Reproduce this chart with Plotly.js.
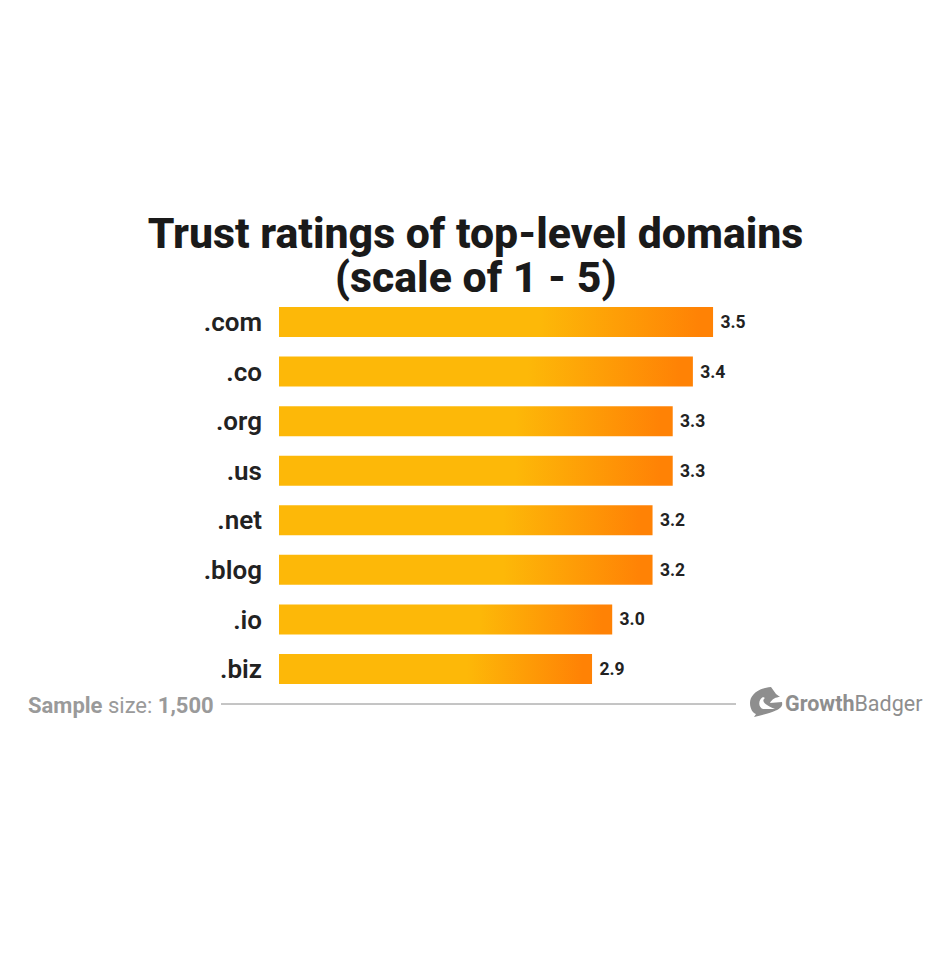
<!DOCTYPE html>
<html>
<head>
<meta charset="utf-8">
<script src="https://cdn.plot.ly/plotly-3.0.1.min.js"></script>
<style>html,body{margin:0;padding:0;background:#fff}</style>
</head>
<body>
<div id="chart" style="width:950px;height:980px"></div>
<script>
const domains = ['.com', '.co', '.org', '.us', '.net', '.blog', '.io', '.biz'];
const ratings = [3.5, 3.4, 3.3, 3.3, 3.2, 3.2, 3.0, 2.9];
const titleLine1 = 'Trust ratings of top-level domains';
const titleLine2 = '(scale of 1 - 5)';
const W = 950, H = 980;
const px = v => v / W, py = v => 1 - v / H;
const font = 'Roboto, sans-serif';
const P = (cmd, pts) => cmd + ' ' + pts.map(p => px(p[0]) + ' ' + py(p[1])).join(' ');

const trace = {
  type: 'bar', orientation: 'h',
  y: domains, x: ratings,
  marker: {color: '#FDB808', line: {width: 0}},
  text: ratings.map(v => '\u00a0' + v.toFixed(1)),
  textposition: 'outside',
  textfont: {family: font, size: 17.5, color: '#222222', weight: 700},
  cliponaxis: false,
  hoverinfo: 'y+x'
};

const badgerBody = [
  P('M', [[771, 687]]),
  P('C', [[758, 688], [750, 695], [750, 703]]),
  P('C', [[750, 709], [753, 713], [756, 714]]),
  P('L', [[754, 717], [762, 717], [764, 714], [770, 717], [776, 717], [778, 714]]),
  P('C', [[781, 711], [783, 707], [782, 702]]),
  P('L', [[770, 703]]),
  P('C', [[772, 699], [776, 697], [780, 697]]),
  P('L', [[776, 694], [766, 694]]),
  P('Z', [])
].join(' ');
const badgerSwoosh = [
  P('M', [[763, 697]]),
  P('C', [[758, 700], [758, 707], [763, 709]]),
  P('L', [[775, 709], [772, 706], [765, 706]]),
  P('C', [[762, 704], [762, 700], [765, 698]]),
  P('Z', [])
].join(' ');

const layout = {
  width: W, height: H,
  margin: {l: 0, r: 0, t: 0, b: 0},
  paper_bgcolor: '#ffffff', plot_bgcolor: '#ffffff',
  showlegend: false,
  bargap: 0.395,
  title: {
    text: titleLine1,
    font: {family: font, size: 42.8, color: '#1a1a1a', weight: 800},
    x: 475.5 / W, xanchor: 'center', xref: 'paper',
    y: py(233), yanchor: 'middle', yref: 'container'
  },
  xaxis: {
    domain: [px(279), px(829)],
    range: [1.348, 1.348 + 550 / 201.7],
    visible: false, fixedrange: true
  },
  yaxis: {
    domain: [py(693.8), py(297.2)],
    autorange: 'reversed',
    type: 'category',
    showline: false, showgrid: false, zeroline: false, ticks: '',
    ticklabelstandoff: 16,
    tickfont: {family: font, size: 26, color: '#222222', weight: 600},
    fixedrange: true
  },
  shapes: [
    {type: 'line', xref: 'paper', yref: 'paper', layer: 'above',
     x0: px(221), x1: px(736), y0: py(704), y1: py(704),
     line: {color: '#8a8a8a', width: 1}},
    {type: 'path', xref: 'paper', yref: 'paper', layer: 'above',
     path: badgerBody, fillcolor: '#8e8e8e', line: {width: 0}},
    {type: 'path', xref: 'paper', yref: 'paper', layer: 'above',
     path: badgerSwoosh, fillcolor: '#ffffff', line: {width: 0}}
  ],
  annotations: [
    {xref: 'paper', yref: 'paper', showarrow: false, xanchor: 'center', yanchor: 'middle',
     x: 475.5 / W, y: py(277),
     text: titleLine2,
     font: {family: font, size: 42.8, color: '#1a1a1a', weight: 800}},
    {xref: 'paper', yref: 'paper', showarrow: false, xanchor: 'left', yanchor: 'middle',
     x: px(26), y: py(705),
     text: '<b>Sample</b> size: <b>1,500</b>',
     font: {family: font, size: 22, color: '#9a9a9a'}},
    {xref: 'paper', yref: 'paper', showarrow: false, xanchor: 'left', yanchor: 'middle',
     x: px(783), y: py(703),
     text: '<b>Growth</b>Badger',
     font: {family: font, size: 21.5, color: '#8e8e8e'}}
  ]
};

function applyGradient(gd) {
  const svg = gd.querySelector('svg.main-svg');
  const NS = 'http://www.w3.org/2000/svg';
  const defs = svg.querySelector('defs');
  gd.querySelectorAll('.barlayer .point path').forEach((p, i) => {
    const id = 'barGrad' + i;
    const box = p.getBBox();
    let g = gd.querySelector('#' + id);
    if (!g) {
      g = document.createElementNS(NS, 'linearGradient');
      g.setAttribute('id', id);
      g.setAttribute('gradientUnits', 'userSpaceOnUse');
      [['0%', '#FDB808'], ['60%', '#FDB808'], ['97%', '#FF8205'], ['100%', '#FF8205']].forEach(s => {
        const st = document.createElementNS(NS, 'stop');
        st.setAttribute('offset', s[0]); st.setAttribute('stop-color', s[1]);
        g.appendChild(st);
      });
      defs.appendChild(g);
    }
    g.setAttribute('x1', 0); g.setAttribute('x2', box.x + box.width);
    g.setAttribute('y1', 0); g.setAttribute('y2', 0);
    p.style.fill = 'url(#' + id + ')';
  });
}

Plotly.newPlot('chart', [trace], layout, {displayModeBar: false, staticPlot: true}).then(gd => {
  applyGradient(gd);
  gd.on('plotly_afterplot', () => applyGradient(gd));
});
</script>
</body>
</html>
